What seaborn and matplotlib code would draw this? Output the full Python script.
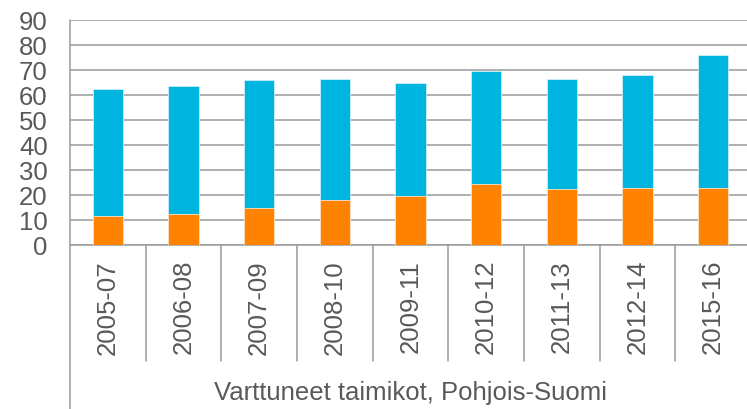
import matplotlib
matplotlib.use("Agg")
import matplotlib.pyplot as plt
import matplotlib.transforms as mtransforms
import seaborn as sns

periods = ["2005-07", "2006-08", "2007-09", "2008-10", "2009-11",
           "2010-12", "2011-13", "2012-14", "2015-16"]
orange_vals = [11.5, 12.5, 14.7, 18.1, 19.7, 24.4, 22.5, 22.7, 22.8]
blue_vals = [50.8, 51.0, 51.3, 48.2, 45.0, 45.2, 43.8, 45.2, 53.3]
yticks = [0, 10, 20, 30, 40, 50, 60, 70, 80, 90]
group_label = "Varttuneet taimikot, Pohjois-Suomi"

totals = [o + b for o, b in zip(orange_vals, blue_vals)]

sns.set_style("white")
plt.rcParams["font.family"] = ["Liberation Sans", "DejaVu Sans"]

text_col = "#595959"
grid_col = "#9a9a9a"
fsize = 18.5

fig = plt.figure(figsize=(7.47, 4.10), dpi=100)
ax = fig.add_axes([70 / 747, 164 / 410, 681 / 747, 225 / 410])

# stacked bars: total in blue, orange bottom drawn over it
sns.barplot(x=periods, y=totals, color="#00b4e0", saturation=1, width=0.4,
            edgecolor="#cdeef8", linewidth=0.6, ax=ax, zorder=3)
sns.barplot(x=periods, y=orange_vals, color="#ff8200", saturation=1, width=0.4,
            edgecolor="#ffe3c4", linewidth=0.6, ax=ax, zorder=4)

ax.set_xlim(-0.5, len(periods) - 0.5)
ax.set_ylim(0, 90)
ax.set_yticks(yticks)
ax.set_xlabel("")
ax.set_ylabel("")

ax.yaxis.grid(True, color=grid_col, linewidth=1.1, zorder=0)
ax.set_axisbelow(True)
for s in ["top", "right", "left"]:
    ax.spines[s].set_visible(False)
ax.spines["bottom"].set_color(grid_col)
ax.spines["bottom"].set_linewidth(1.1)

ax.tick_params(axis="y", length=6, width=1.1, color=grid_col, pad=10,
               labelsize=fsize, labelcolor=text_col)
ax.tick_params(axis="x", length=0, pad=10, labelsize=fsize, labelcolor=text_col,
               rotation=90)

# category separators and the long left axis line
trans = mtransforms.blended_transform_factory(ax.transData, ax.transAxes)
ax.plot([-0.5, -0.5], [1.0, -0.75], transform=trans, color=grid_col,
        linewidth=1.1, clip_on=False)
for i in range(len(periods)):
    ax.plot([i + 0.5, i + 0.5], [0, -0.515], transform=trans, color=grid_col,
            linewidth=1.1, clip_on=False)

ax.text(0.5, -0.653, group_label, transform=ax.transAxes, ha="center",
        va="center", fontsize=fsize, color=text_col)

fig.savefig("out.png", dpi=100)
